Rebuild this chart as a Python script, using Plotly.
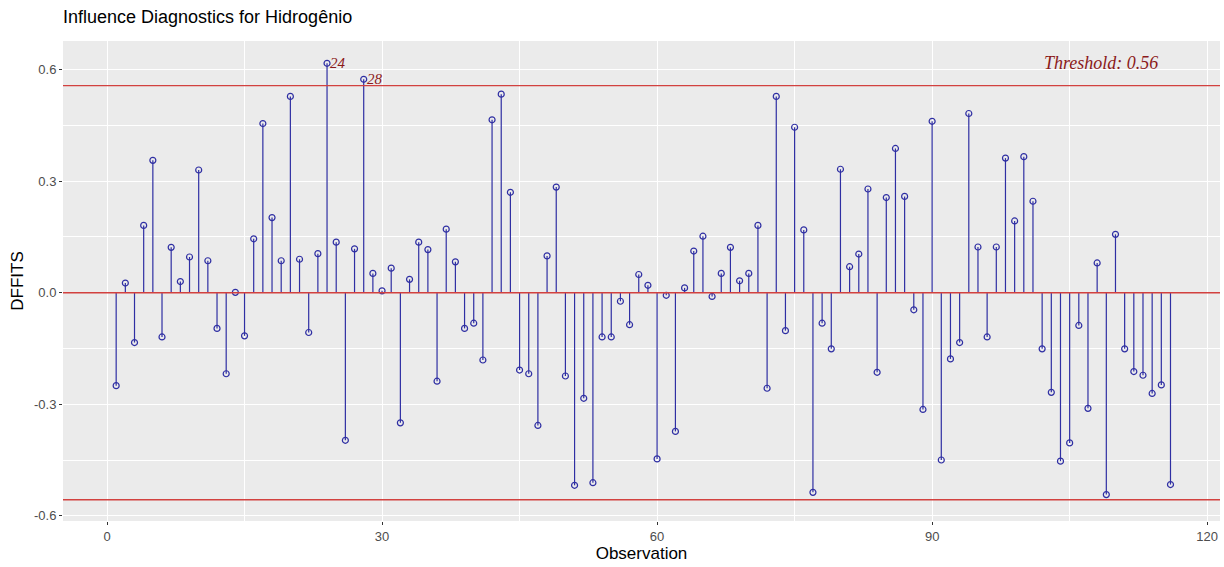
import plotly.graph_objects as go

# DFFITS values for observations 1..116
obs = list(range(1, 117))
dffits = [
    -0.250, 0.026, -0.134, 0.181, 0.356, -0.119, 0.122, 0.030, 0.096, 0.330,
    0.086, -0.096, -0.218, 0.001, -0.116, 0.145, 0.455, 0.202, 0.086, 0.528,
    0.090, -0.107, 0.105, 0.617, 0.136, -0.397, 0.118, 0.574, 0.052, 0.005,
    0.066, -0.350, 0.036, 0.136, 0.116, -0.238, 0.171, 0.083, -0.096, -0.082,
    -0.181, 0.465, 0.534, 0.270, -0.208, -0.218, -0.357, 0.099, 0.284, -0.224,
    -0.518, -0.284, -0.511, -0.119, -0.119, -0.023, -0.086, 0.049, 0.020, -0.447,
    -0.007, -0.373, 0.013, 0.112, 0.152, -0.010, 0.052, 0.122, 0.032, 0.052,
    0.181, -0.257, 0.528, -0.102, 0.445, 0.169, -0.537, -0.082, -0.151, 0.332,
    0.070, 0.104, 0.279, -0.214, 0.256, 0.388, 0.259, -0.046, -0.314, 0.461,
    -0.450, -0.178, -0.134, 0.482, 0.123, -0.119, 0.123, 0.362, 0.193, 0.366,
    0.246, -0.151, -0.268, -0.453, -0.404, -0.088, -0.311, 0.080, -0.543, 0.157,
    -0.151, -0.212, -0.222, -0.271, -0.248, -0.516,
]
threshold = 0.557
threshold_label = "Threshold: 0.56"
x_ticks = [0, 30, 60, 90, 120]
y_ticks = [-0.6, -0.3, 0.0, 0.3, 0.6]
y_tick_text = ["-0.6", "-0.3", "0.0", "0.3", "0.6"]

stem_color = "#2F2FA3"
line_red = "#D2413F"
text_red = "#8B1A1A"

# vertical stems from zero to each value
sx, sy = [], []
for o, v in zip(obs, dffits):
    sx += [o, o, None]
    sy += [0, v, None]

fig = go.Figure()
fig.add_trace(go.Scatter(x=sx, y=sy, mode="lines",
                         line=dict(color=stem_color, width=1.2),
                         hoverinfo="skip", showlegend=False))
fig.add_trace(go.Scatter(x=obs, y=dffits, mode="markers",
                         marker=dict(symbol="circle-open", size=6,
                                     color=stem_color, line=dict(width=1.2)),
                         showlegend=False))

# zero line and +/- threshold lines
for yv in (0, threshold, -threshold):
    fig.add_shape(type="line", xref="paper", x0=0, x1=1, yref="y", y0=yv, y1=yv,
                  line=dict(color=line_red, width=1.4), layer="above")

# label observations beyond the threshold
for o, v in zip(obs, dffits):
    if abs(v) > threshold:
        fig.add_annotation(x=o, y=v, text=str(o), showarrow=False,
                           xanchor="left", yanchor="middle", xshift=1,
                           font=dict(family="Liberation Serif", size=15,
                                     color=text_red, style="italic"))

fig.add_annotation(xref="paper", yref="paper", x=0.948, y=0.955,
                   text=threshold_label, showarrow=False,
                   xanchor="right", yanchor="middle",
                   font=dict(family="Liberation Serif", size=18,
                             color=text_red, style="italic"))

axis_font = dict(family="Liberation Sans", size=13, color="#4D4D4D")
title_font = dict(family="Liberation Sans", size=17, color="black")
fig.update_layout(
    width=1224, height=567,
    margin=dict(l=63, r=4, t=41, b=46),
    paper_bgcolor="white", plot_bgcolor="#EBEBEB",
    title=dict(text="Influence Diagnostics for Hidrogênio",
               x=63 / 1224, xanchor="left", y=1 - 17 / 567, yanchor="middle",
               font=dict(family="Liberation Sans", size=18, color="black")),
    font=dict(family="Liberation Sans"),
    xaxis=dict(range=[-4.8, 121.4], tickvals=x_ticks, ticks="outside",
               ticklen=3, tickcolor="#333333", tickfont=axis_font,
               showgrid=True, gridcolor="white", gridwidth=1.3, zeroline=False,
               minor=dict(tickvals=[15, 45, 75, 105], showgrid=True,
                          gridcolor="white", gridwidth=0.6, ticks=""),
               title=dict(text="Observation", standoff=4, font=title_font)),
    yaxis=dict(range=[-0.614, 0.677], tickvals=y_ticks, ticktext=y_tick_text,
               ticks="outside", ticklen=3, tickcolor="#333333", tickfont=axis_font,
               showgrid=True, gridcolor="white", gridwidth=1.3, zeroline=False,
               minor=dict(tickvals=[-0.45, -0.15, 0.15, 0.45], showgrid=True,
                          gridcolor="white", gridwidth=0.6, ticks=""),
               title=dict(text="DFFITS", standoff=6, font=title_font)),
)

fig.write_html("out.html")
